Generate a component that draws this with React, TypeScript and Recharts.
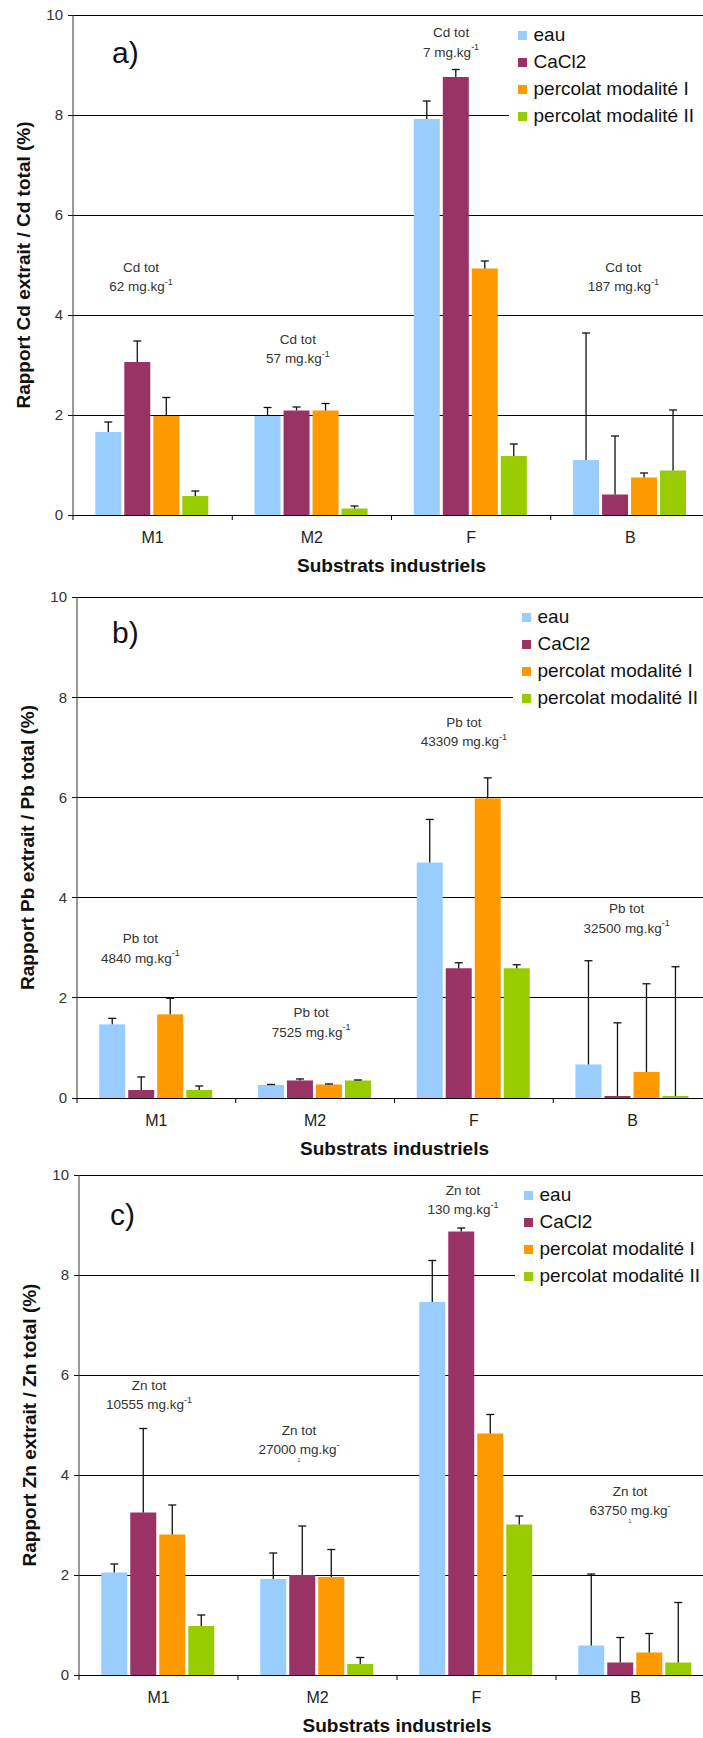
import React from 'react';
import { BarChart, Bar, XAxis, YAxis, CartesianGrid, Legend, ReferenceDot, ReferenceLine } from 'recharts';

// ---------- shared ----------
const categories = ['M1', 'M2', 'F', 'B'];
const seriesNames = ['eau', 'CaCl2', 'percolat modalité I', 'percolat modalité II'];
const seriesColors = ['#99CCFF', '#993366', '#FF9900', '#99CC00'];
const yTicks = [0, 2, 4, 6, 8, 10];
const xTitle = 'Substrats industriels';

// ---------- a) Cd ----------
const cdEau = [1.66, 1.98, 7.92, 1.1];
const cdEauErr = [0.2, 0.17, 0.36, 2.54];
const cdCaCl2 = [3.06, 2.09, 8.76, 0.41];
const cdCaCl2Err = [0.42, 0.07, 0.15, 1.17];
const cdPercI = [1.98, 2.09, 4.93, 0.75];
const cdPercIErr = [0.37, 0.14, 0.15, 0.09];
const cdPercII = [0.38, 0.13, 1.18, 0.89];
const cdPercIIErr = [0.1, 0.05, 0.24, 1.21];
const cdNoteTitle = 'Cd tot';
const cdNoteValues = ['62', '57', '7', '187'];
const cdNoteSup = ['-1', '-1', '-1', '-1'];
const cdNoteTail = ['', '', '', ''];

// ---------- b) Pb ----------
const pbEau = [1.47, 0.26, 4.7, 0.67];
const pbEauErr = [0.12, 0.01, 0.86, 2.07];
const pbCaCl2 = [0.16, 0.35, 2.59, 0.04];
const pbCaCl2Err = [0.26, 0.03, 0.11, 1.46];
const pbPercI = [1.67, 0.27, 5.98, 0.52];
const pbPercIErr = [0.32, 0.01, 0.41, 1.76];
const pbPercII = [0.16, 0.35, 2.59, 0.04];
const pbPercIIErr = [0.08, 0.01, 0.07, 2.58];
const pbNoteTitle = 'Pb tot';
const pbNoteValues = ['4840', '7525', '43309', '32500'];
const pbNoteSup = ['-1', '-1', '-1', '-1'];
const pbNoteTail = ['', '', '', ''];

// ---------- c) Zn ----------
const znEau = [2.05, 1.92, 7.46, 0.59];
const znEauErr = [0.17, 0.52, 0.83, 1.43];
const znCaCl2 = [3.25, 2.0, 8.87, 0.25];
const znCaCl2Err = [1.68, 0.98, 0.07, 0.5];
const znPercI = [2.81, 1.96, 4.83, 0.45];
const znPercIErr = [0.59, 0.55, 0.38, 0.38];
const znPercII = [0.98, 0.22, 3.01, 0.25];
const znPercIIErr = [0.22, 0.13, 0.17, 1.2];
const znNoteTitle = 'Zn tot';
const znNoteValues = ['10555', '27000', '130', '63750'];
const znNoteSup = ['-1', '-', '-1', '-'];
const znNoteTail = ['', '1', '', '1'];

// annotation anchors (layout): y in data units, dx in px
const cdNoteY = [4.96, 3.52, 9.65, 4.96];
const cdNoteDx = [-11.6, -14, -20, -7];
const pbNoteY = [3.18, 1.7, 7.5, 3.78];
const pbNoteDx = [-16, -4, -10, -6];
const znNoteY = [5.8, 4.9, 9.7, 3.68];
const znNoteDx = [-9.5, -18.5, -13.5, -5.5];

const FONT = "'Liberation Sans', Arial, sans-serif";

const buildRows = (s: number[][], e: number[][]) =>
  categories.map((cat, i) => ({
    cat,
    s0: s[0][i], s1: s[1][i], s2: s[2][i], s3: s[3][i],
    e0: e[0][i], e1: e[1][i], e2: e[2][i], e3: e[3][i],
  }));

const cdData = buildRows([cdEau, cdCaCl2, cdPercI, cdPercII], [cdEauErr, cdCaCl2Err, cdPercIErr, cdPercIIErr]);
const pbData = buildRows([pbEau, pbCaCl2, pbPercI, pbPercII], [pbEauErr, pbCaCl2Err, pbPercIErr, pbPercIIErr]);
const znData = buildRows([znEau, znCaCl2, znPercI, znPercII], [znEauErr, znCaCl2Err, znPercIErr, znPercIIErr]);

const makeShape = (valKey: string, errKey: string) => (props: any) => {
  const { x, y, width, height, fill, payload } = props;
  if (x == null || y == null) return <g />;
  const v = payload ? payload[valKey] : 0;
  const e = payload ? payload[errKey] : 0;
  const ppu = v > 0 ? height / v : 0;
  const top = y - e * ppu;
  const cx = x + width / 2;
  return (
    <g>
      <rect x={x} y={y} width={width} height={Math.max(0, height)} fill={fill} />
      <line x1={cx} y1={y} x2={cx} y2={top} stroke="#111" strokeWidth={1.3} />
      <line x1={cx - 4} y1={top} x2={cx + 4} y2={top} stroke="#111" strokeWidth={1.3} />
    </g>
  );
};

const CategoryTick = (p: any) => (
  <text x={p.x} y={p.y + 22} textAnchor="middle" dominantBaseline="central"
    style={{ fontFamily: FONT, fontSize: 16 }} fill="#222">
    {p.payload ? p.payload.value : ''}
  </text>
);

const LegendBox = () => (
  <div style={{ background: '#fff', paddingLeft: 8.5, height: 108, width: 300, boxSizing: 'border-box' }}>
    {seriesNames.map((name, i) => (
      <div key={name} style={{ height: 27, display: 'flex', alignItems: 'center', fontFamily: FONT, fontSize: 19, color: '#111', whiteSpace: 'nowrap' }}>
        <span style={{ display: 'inline-block', width: 9, height: 9, background: seriesColors[i], marginRight: 7, flex: '0 0 auto' }} />
        <span>{name}</span>
      </div>
    ))}
  </div>
);

const renderNote = (p: any, title: string, value: string, sup: string, tail: string, dx: number) => {
  const vb = p && p.viewBox ? p.viewBox : { x: 0, y: 0, width: 0, height: 0 };
  const cx = vb.x + (vb.width || 0) / 2 + dx;
  const cy = vb.y + (vb.height || 0) / 2;
  const st = { fontFamily: FONT, fontSize: 13.5 };
  return (
    <g>
      <text x={cx} y={cy} textAnchor="middle" dominantBaseline="central" style={st} fill="#333">{title}</text>
      <text x={cx} y={cy + 19.5} textAnchor="middle" dominantBaseline="central" style={st} fill="#333">
        {value} mg.kg<tspan dy={-5} style={{ fontSize: 9 }}>{sup}</tspan>
      </text>
      {tail ? (
        <text x={cx} y={cy + 30} textAnchor="middle" dominantBaseline="central" style={{ fontFamily: FONT, fontSize: 5 }} fill="#333">{tail}</text>
      ) : null}
    </g>
  );
};

function Panel(props: any) {
  const { top, chartW, chartH, margin, yW, data, noteTitle, noteValues, noteSup, noteTail, noteY, noteDx, yLabel, tag, tagX, tagBaseline } = props;
  const plotLeft = margin.left + yW;
  const plotRight = chartW - margin.right;
  const plotBottom = chartH - margin.bottom - 60;
  return (
    <div style={{ position: 'absolute', left: 0, top, width: chartW, height: chartH }}>
      <BarChart width={chartW} height={chartH} data={data} margin={margin} barCategoryGap="14%" barGap={3}>
        <CartesianGrid vertical={false} horizontal stroke="#000" strokeWidth={1} shapeRendering="crispEdges" />
        <XAxis
          dataKey="cat"
          type="category"
          interval={0}
          height={60}
          tickSize={0}
          tickMargin={0}
          tickLine={false}
          axisLine={{ stroke: '#000', strokeWidth: 1, shapeRendering: 'crispEdges' }}
          tick={CategoryTick}
        />
        <YAxis
          domain={[0, 10]}
          ticks={yTicks}
          interval={0}
          width={yW}
          tickSize={5}
          tickMargin={5}
          axisLine={{ stroke: '#555', strokeWidth: 1.2 }}
          tickLine={{ stroke: '#111', shapeRendering: 'crispEdges' }}
          tick={{ fontFamily: FONT, fontSize: 15, fill: '#333' }}
          label={{
            content: (lp: any) => {
              const vb = lp.viewBox || { x: 0, y: 0, width: 0, height: 0 };
              const x = vb.x + vb.width - 50;
              const y = vb.y + vb.height / 2;
              return (
                <text x={x} y={y} transform={`rotate(-90 ${x} ${y})`} textAnchor="middle" dominantBaseline="central"
                  style={{ fontFamily: FONT, fontSize: 19, fontWeight: 'bold' }} fill="#111">
                  {yLabel}
                </text>
              );
            },
          }}
        />
        <Legend
          layout="horizontal"
          verticalAlign="middle"
          align="center"
          content={LegendBox}
          wrapperStyle={{ left: yW + 436, top: margin.top + 6.5, width: 300, height: 108 }}
        />
        {seriesNames.map((name, i) => (
          <Bar key={name} dataKey={`s${i}`} name={name} fill={seriesColors[i]} isAnimationActive={false}
            shape={makeShape(`s${i}`, `e${i}`)} />
        ))}
        {categories.map((cat) => (
          <ReferenceLine key={'tick-' + cat} segment={[{ x: cat, y: 0 }, { x: cat, y: -0.1 }]} position="start"
            stroke="#000" strokeWidth={1} ifOverflow="visible" />
        ))}
        {categories.map((cat, i) => (
          <ReferenceDot key={cat} x={cat} y={noteY[i]} r={0} fill="none" stroke="none" ifOverflow="visible"
            label={(lp: any) => renderNote(lp, noteTitle, noteValues[i], noteSup[i], noteTail[i], noteDx[i])} />
        ))}
      </BarChart>
      <svg width={chartW} height={chartH} style={{ position: 'absolute', left: 0, top: 0, pointerEvents: 'none' }}>
        <text x={tagX} y={tagBaseline} style={{ fontFamily: FONT, fontSize: 30 }} fill="#111">{tag}</text>
        <text x={(plotLeft + plotRight) / 2} y={plotBottom + 50} textAnchor="middle" dominantBaseline="central"
          style={{ fontFamily: FONT, fontSize: 19, fontWeight: 'bold' }} fill="#111">{xTitle}</text>
      </svg>
    </div>
  );
}

export default function App() {
  return (
    <div style={{ position: 'absolute', left: 0, top: 0, width: 703, height: 1738, overflow: 'hidden', background: '#fff' }}>
      <Panel
        top={0} chartW={720} chartH={580} margin={{ top: 15, right: 10, bottom: 5, left: 0 }} yW={73}
        data={cdData} noteTitle={cdNoteTitle} noteValues={cdNoteValues} noteSup={cdNoteSup} noteTail={cdNoteTail}
        noteY={cdNoteY} noteDx={cdNoteDx}
        yLabel="Rapport Cd extrait / Cd total (%)" tag="a)" tagX={112} tagBaseline={63}
      />
      <Panel
        top={580} chartW={722} chartH={580} margin={{ top: 17, right: 10, bottom: 2, left: 0 }} yW={77}
        data={pbData} noteTitle={pbNoteTitle} noteValues={pbNoteValues} noteSup={pbNoteSup} noteTail={pbNoteTail}
        noteY={pbNoteY} noteDx={pbNoteDx}
        yLabel="Rapport Pb extrait / Pb total (%)" tag="b)" tagX={112} tagBaseline={63}
      />
      <Panel
        top={1160} chartW={725} chartH={578} margin={{ top: 15, right: 10, bottom: 3, left: 0 }} yW={79}
        data={znData} noteTitle={znNoteTitle} noteValues={znNoteValues} noteSup={znNoteSup} noteTail={znNoteTail}
        noteY={znNoteY} noteDx={znNoteDx}
        yLabel="Rapport Zn extrait / Zn total (%)" tag="c)" tagX={110} tagBaseline={64.5}
      />
    </div>
  );
}
